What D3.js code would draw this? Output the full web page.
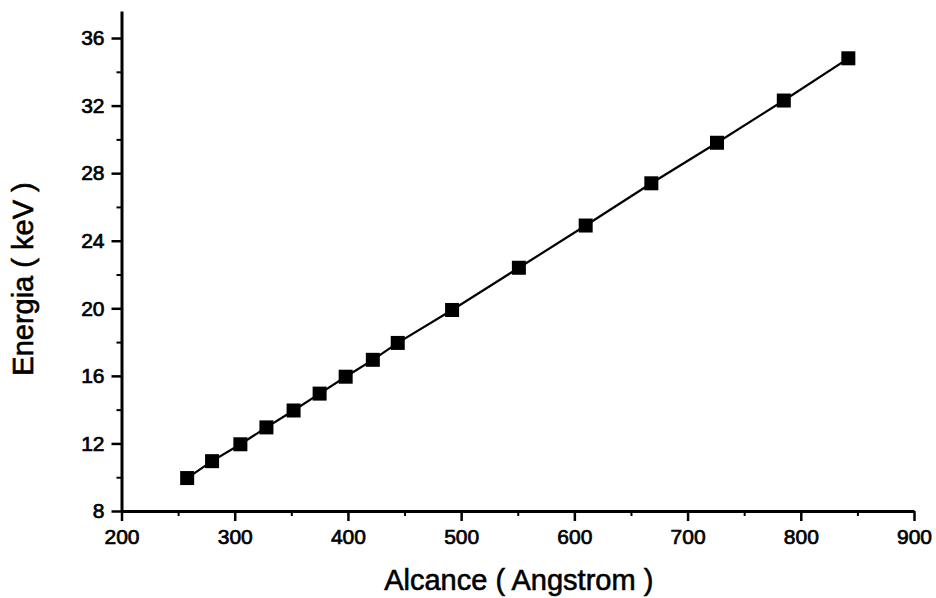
<!DOCTYPE html>
<html>
<head>
<meta charset="utf-8">
<script src="https://cdn.jsdelivr.net/npm/d3@7"></script>
<style>
  body { margin: 0; background: #fff; }
  text { font-family: "Liberation Sans", Arial, sans-serif; fill: #000; }
</style>
</head>
<body>
<div id="chart"></div>
<script>
// data
let alcance = [258, 280, 305, 328, 352, 375, 398, 422, 444, 492, 551, 610, 668, 726, 785, 842];
let energia = [9.95, 10.95, 11.95, 12.95, 13.95, 14.95, 15.95, 16.95, 17.95, 19.9, 22.4, 24.9, 27.4, 29.8, 32.3, 34.8];
let xTicks = [200, 300, 400, 500, 600, 700, 800, 900];
let xMinor = [250, 350, 450, 550, 650, 750, 850];
let yTicks = [8, 12, 16, 20, 24, 28, 32, 36];
let yMinor = [10, 14, 18, 22, 26, 30, 34];

let width = 936, height = 598;
let mLeft = 121.5, mRight = 914, mTop = 11, mBottom = 511;

let svg = d3.select("#chart")
              .append("svg")
                .attr("width", width)
                .attr("height", height)
;

let x = d3.scaleLinear().domain([200, 900]).range([mLeft, mRight]);
let y = d3.scaleLinear().domain([8, 37.6]).range([mBottom, mTop]);

let points = alcance.map(function(a, i){ return {x: a, y: energia[i]}; });

// minor ticks first, no labels
svg.append("g")
    .attr("transform", "translate(0," + mBottom + ")")
    .call(d3.axisBottom(x).tickValues(xMinor).tickSize(5).tickFormat(""))
    .call(g => g.select(".domain").remove())
    .selectAll("line").attr("stroke-width", 2);

svg.append("g")
    .attr("transform", "translate(" + mLeft + ",0)")
    .call(d3.axisLeft(y).tickValues(yMinor).tickSize(5).tickFormat(""))
    .call(g => g.select(".domain").remove())
    .selectAll("line").attr("stroke-width", 2);

// major axes
let xAxis = svg.append("g")
    .attr("transform", "translate(0," + mBottom + ")")
    .call(d3.axisBottom(x).tickValues(xTicks).tickSize(10).tickPadding(8).tickSizeOuter(0));

let yAxis = svg.append("g")
    .attr("transform", "translate(" + mLeft + ",0)")
    .call(d3.axisLeft(y).tickValues(yTicks).tickSize(10).tickPadding(7).tickSizeOuter(0));

[xAxis, yAxis].forEach(function(a){
  a.select(".domain").attr("stroke-width", 3);
  a.selectAll(".tick line").attr("stroke-width", 2.5);
  a.selectAll(".tick text")
      .style("font-size", "21px")
      .attr("stroke", "#000")
      .attr("stroke-width", 0.7);
});

// line + square markers
let line = d3.line()
              .x(function(d){ return x(d.x); })
              .y(function(d){ return y(d.y); })
;
svg.append("path")
    .attr("d", line(points))
    .attr("fill", "none")
    .attr("stroke", "#000")
    .attr("stroke-width", 2.2);

let s = 14;
svg.selectAll("rect.pt")
    .data(points)
    .enter()
    .append("rect")
      .attr("class", "pt")
      .attr("x", function(d){ return x(d.x) - s / 2; })
      .attr("y", function(d){ return y(d.y) - s / 2; })
      .attr("width", s)
      .attr("height", s)
      .attr("fill", "#000");

// axis titles
svg.append("text")
    .attr("x", (mLeft + mRight) / 2 + 1)
    .attr("y", 590)
    .attr("text-anchor", "middle")
    .style("font-size", "29px")
    .attr("stroke", "#000")
    .attr("stroke-width", 0.6)
    .text("Alcance ( Angstrom )");

svg.append("text")
    .attr("transform", "translate(33,279) rotate(-90)")
    .attr("text-anchor", "middle")
    .style("font-size", "29px")
    .attr("stroke", "#000")
    .attr("stroke-width", 0.6)
    .text("Energia ( keV )");
</script>
</body>
</html>
